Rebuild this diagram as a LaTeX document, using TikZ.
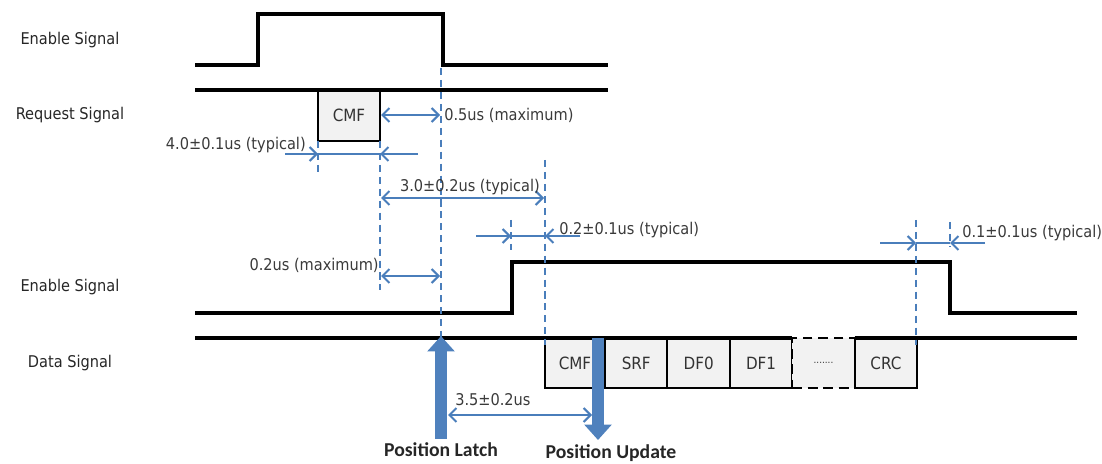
\documentclass[tikz,border=0pt]{standalone}
\usepackage{fontspec}
\setmainfont{DejaVu Sans Condensed}
\newfontfamily\eventfont{Carlito}
\usetikzlibrary{arrows.meta, positioning}

\definecolor{dimblue}{HTML}{4A7EBB}
\definecolor{fillblue}{HTML}{4F81BD}
\definecolor{boxgray}{HTML}{F2F2F2}
\definecolor{labgray}{HTML}{3A3A3A}

\begin{document}
\begin{tikzpicture}[x=0.025cm, y=-0.025cm,
    every node/.style={font=\fontsize{11.5}{13}\selectfont, text=labgray, inner sep=0pt},
    sig/.style={line width=2.6pt, black},
    guide/.style={draw=dimblue, line width=1.5pt, dash pattern=on 5pt off 3.5pt},
    dimline/.style={draw=dimblue, line width=1.4pt},
    dimboth/.style={dimline, {Straight Barb[length=5pt,width=10pt]}-{Straight Barb[length=5pt,width=10pt]}},
    dimin/.style={dimline, -{Straight Barb[length=5pt,width=10pt]}},
    framebox/.style={draw=black, line width=1.5pt, fill=boxgray, minimum width=1.56cm, minimum height=1.25cm, outer sep=0pt, text=black!80, font=\fontsize{12}{14}\selectfont},
    bigarrow/.style={draw=fillblue, line width=9pt, -{Triangle[length=11pt,width=19pt]}},
    siglabel/.style={text=black!85},
    eventlabel/.style={font=\eventfont\bfseries\fontsize{14}{16}\selectfont, text=black!85}
]
\useasboundingbox (0,0) rectangle (1102,464);

% Signal names
\node[siglabel] (en1lbl) at (70,40) {Enable Signal};
\node[siglabel] (reqlbl) at (70,115) {Request Signal};
\node[siglabel] (en2lbl) at (70,287) {Enable Signal};
\node[siglabel] (datlbl) at (70,363) {Data Signal};

% Waveforms
\draw[sig] (195,65) -- (258,65) -- (258,14) -- (443,14) -- (443,65) -- (608,65);
\node[framebox, anchor=north west, minimum width=1.55cm, minimum height=1.275cm] (cmfr) at (318,90) {CMF};
\draw[sig] (195,90) -- (608,90);
\draw[sig] (195,313) -- (512,313) -- (512,262) -- (950,262) -- (950,313) -- (1077,313);

% Data frame
\node[framebox, anchor=north west, minimum width=1.5cm] (cmfd) at (545,338) {CMF};
\node[framebox, right=0pt of cmfd] (srf) {SRF};
\node[framebox, right=0pt of srf] (df0) {DF0};
\node[framebox, right=0pt of df0] (df1) {DF1};
\node[framebox, right=0pt of df1, dash pattern=on 7pt off 4pt, font=\fontsize{7}{8}\selectfont] (more) {.......};
\node[framebox, right=0pt of more] (crc) {CRC};
\draw[sig] (195,338) -- (df1.north east);
\draw[sig] (crc.north west) -- (1077,338);

% Time marks
\coordinate (tA) at (318,141);
\coordinate (tAb) at (318,175);
\coordinate (tB) at (380,141);
\coordinate (tBb) at (380,290);
\coordinate (tC) at (441,68);
\coordinate (tCb) at (441,340);
\coordinate (tD) at (511,220);
\coordinate (tDb) at (511,250);
\coordinate (tE) at (545,160);
\coordinate (tEb) at (545,345);
\coordinate (tF) at (916,220);
\coordinate (tFb) at (916,345);
\coordinate (tG) at (950,222);
\coordinate (tGb) at (950,246);

\draw[guide] (tA) -- (tAb);
\draw[guide] (tB) -- (tBb);
\draw[guide] (tC) -- (tCb);
\draw[guide] (tD) -- (tDb);
\draw[guide] (tE) -- (tEb);
\draw[guide] (tF) -- (tFb);
\draw[guide] (tG) -- (tGb);

% 0.5us (maximum)
\coordinate (m1a) at (381,115);
\coordinate (m1b) at (440,115);
\draw[dimboth] (m1a) -- (m1b);
\node[anchor=west] (m1lbl) at (444,115) {0.5us (maximum)};

% 4.0us (typical)
\coordinate (w1o) at (285,154);
\coordinate (w1a) at (318,154);
\coordinate (w1b) at (380,154);
\coordinate (w1p) at (418,154);
\draw[dimin] (w1o) -- (w1a);
\draw[dimline] (w1a) -- (w1b);
\draw[dimin] (w1p) -- (w1b);
\node[anchor=east] (w1lbl) at (306,145) {4.0±0.1us (typical)};

% 3.0us (typical)
\coordinate (m2a) at (381,198);
\coordinate (m2b) at (544,198);
\draw[dimboth] (m2a) -- (m2b);
\node (m2lbl) at (470,187) {3.0±0.2us (typical)};

% 0.2us (typical)
\coordinate (w2o) at (476,236);
\coordinate (w2a) at (511,236);
\coordinate (w2b) at (545,236);
\coordinate (w2p) at (580,236);
\draw[dimin] (w2o) -- (w2a);
\draw[dimline] (w2a) -- (w2b);
\draw[dimin] (w2p) -- (w2b);
\node[anchor=west] (w2lbl) at (559,230) {0.2±0.1us (typical)};

% 0.2us (maximum)
\coordinate (m3a) at (381,276);
\coordinate (m3b) at (440,276);
\draw[dimboth] (m3a) -- (m3b);
\node[anchor=east] (m3lbl) at (379,265) {0.2us (maximum)};

% 0.1us (typical)
\coordinate (w3o) at (880,243);
\coordinate (w3a) at (916,243);
\coordinate (w3b) at (950,243);
\coordinate (w3p) at (985,243);
\draw[dimin] (w3o) -- (w3a);
\draw[dimline] (w3a) -- (w3b);
\draw[dimin] (w3p) -- (w3b);
\node[anchor=west] (w3lbl) at (962,233) {0.1±0.1us (typical)};

% Latch and update
\node[eventlabel] (latchlbl) at (441,450) {Position Latch};
\node[eventlabel] (updlbl) at (611,453) {Position Update};
\coordinate (latchtip) at (441,336);
\coordinate (updtop) at (598,338);
\coordinate (updtip) at (598,440);
\draw[bigarrow] ([yshift=3pt]latchlbl.north) -- (latchtip);
\draw[bigarrow] (updtop) -- (updtip);

% 3.5us
\coordinate (m4a) at (448,415);
\coordinate (m4b) at (592,415);
\draw[dimboth] (m4a) -- (m4b);
\node[anchor=west] (m4lbl) at (455,400) {3.5±0.2us};

\end{tikzpicture}
\end{document}
